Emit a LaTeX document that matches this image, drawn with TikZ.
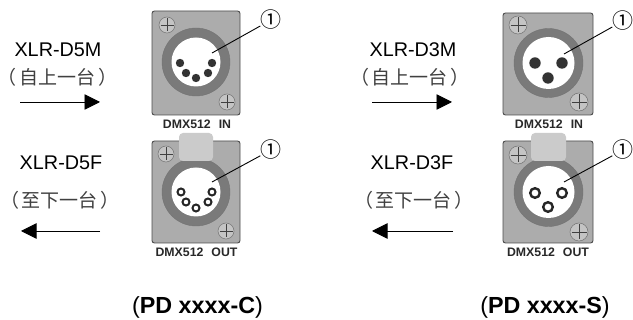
\documentclass[tikz,border=0pt]{standalone}
\usepackage{fontspec}
\usetikzlibrary{arrows.meta}
\setmainfont{Liberation Sans}
\newfontfamily\cjkf{Noto Sans CJK SC}
\definecolor{plate}{RGB}{172,172,172}
\definecolor{ringc}{RGB}{122,122,122}
\definecolor{tabc}{RGB}{203,203,203}
\definecolor{screwc}{RGB}{196,196,196}
\definecolor{labelc}{RGB}{40,40,40}
\tikzset{
  platebox/.style={draw=black!70,line width=0.9pt,fill=plate,rounded corners=2.5pt},
  tabbox/.style={fill=tabc,rounded corners=4pt},
  ringo/.style={draw=black!55,line width=0.4pt,fill=ringc},
  inner/.style={fill=white},
  pinm/.style={fill=black!80},
  pinf/.style={draw=black!85,fill=white},
  screwh/.style={draw=black!55,line width=0.5pt,fill=screwc},
  screwx/.style={draw=black!75,line width=0.7pt},
  leader/.style={draw=black,line width=0.9pt},
  callout/.style={inner sep=0pt,font=\cjkf\fontsize{21}{21}\selectfont},
  dmx/.style={inner sep=0pt,text=labelc,font=\bfseries\fontsize{12.3}{13}\selectfont},
  xlr/.style={inner sep=0pt,font=\fontsize{19.8}{22}\selectfont},
  cn/.style={inner sep=0pt,text=black!75,font=\cjkf\fontsize{19}{21}\selectfont},
  model/.style={inner sep=0pt,font=\fontsize{23.3}{26}\selectfont},
  flow/.style={draw=black,line width=0.9pt,-{Triangle[length=15.5pt,width=15.5pt]}},
}
\newcommand{\screwmark}[3]{%
  \fill[screwh] (#1,#2) circle (#3);
  \draw[screwx] (#1-#3+1.5,#2) -- (#1+#3-1.5,#2) (#1,#2-#3+1.5) -- (#1,#2+#3-1.5);}
\begin{document}
\begin{tikzpicture}[x=1pt,y=-1pt]
\useasboundingbox (0,0) rectangle (633,320);
% panel 1
\filldraw[platebox] (152,11) rectangle (240,115);
\screwmark{167}{25}{8}\screwmark{227}{102}{8}
\fill[ringo] (196,62) circle (34);
\fill[inner] (196,62) circle (24.5);
\foreach \p in {(180,63),(212,63),(186,73),(208,73),(196,78)} \fill[pinm] \p circle (4.2);
\node[callout] (c1) at (271,20) {①};
\coordinate (t1) at (212,53);
\draw[leader] (c1) -- (t1);
\node[dmx] (d1) at (197,124) {DMX512\hspace{8pt}IN};
% panel 2
\filldraw[platebox] (152,141) rectangle (240,243);
\screwmark{166}{154}{8}\screwmark{226}{231}{8}
\fill[ringo] (196,192) circle (34);
\fill[inner] (196,192) circle (24.5);
\fill[tabbox] (179,133) rectangle (213,161);
\foreach \p in {(181,192),(212,192),(186,202),(208,202),(196,208)} \filldraw[pinf,line width=2pt] \p circle (3.5);
\node[callout] (c2) at (271,150) {①};
\coordinate (t2) at (212,182);
\draw[leader] (c2) -- (t2);
\node[dmx] (d2) at (196.5,252) {DMX512\hspace{8pt}OUT};
% panel 3
\filldraw[platebox] (503,13) rectangle (593,115);
\screwmark{518}{25}{9}\screwmark{579}{102}{9}
\fill[ringo] (548.5,63) circle (34.5);
\fill[inner] (548.5,63) circle (26);
\foreach \p in {(535,63),(562,63),(548,78)} \fill[pinm] \p circle (5.7);
\node[callout] (c3) at (623,21) {①};
\coordinate (t3) at (564,54);
\draw[leader] (c3) -- (t3);
\node[dmx] (d3) at (549,124) {DMX512\hspace{8pt}IN};
% panel 4
\filldraw[platebox] (503,141) rectangle (593,243);
\screwmark{518}{155}{9}\screwmark{579}{232}{9}
\fill[ringo] (548.5,192) circle (34.5);
\fill[inner] (548.5,192) circle (26);
\fill[tabbox] (531,133) rectangle (566,161);
\foreach \p in {(535,193),(562,193),(548,207)} \filldraw[pinf,line width=2.4pt] \p circle (4.8);
\node[callout] (c4) at (623,150) {①};
\coordinate (t4) at (564,182);
\draw[leader] (c4) -- (t4);
\node[dmx] (d4) at (548,252) {DMX512\hspace{8pt}OUT};
% left texts
\node[xlr] (x1) at (58,50) {XLR-D5M};
\node[cn] (n1) at (58,77) {（\hspace{3pt}自上一台\hspace{3pt}）};
\coordinate (a1s) at (20,102); \coordinate (a1e) at (100,102);
\draw[flow] (a1s) -- (a1e);
\node[xlr] (x2) at (61,163) {XLR-D5F};
\node[cn] (n2) at (60,200) {（\hspace{3pt}至下一台\hspace{3pt}）};
\coordinate (a2s) at (100,231); \coordinate (a2e) at (21,231);
\draw[flow] (a2s) -- (a2e);
% right texts
\node[xlr] (x3) at (413,50) {XLR-D3M};
\node[cn] (n3) at (410,77) {（\hspace{3pt}自上一台\hspace{3pt}）};
\coordinate (a3s) at (372,102); \coordinate (a3e) at (452,102);
\draw[flow] (a3s) -- (a3e);
\node[xlr] (x4) at (412,163) {XLR-D3F};
\node[cn] (n4) at (414,200) {（\hspace{3pt}至下一台\hspace{3pt}）};
\coordinate (a4s) at (453,231); \coordinate (a4e) at (372,231);
\draw[flow] (a4s) -- (a4e);
% models
\node[model] (m1) at (197.5,307) {(\textbf{PD xxxx-C})};
\node[model] (m2) at (545,307) {(\textbf{PD xxxx-S})};
\end{tikzpicture}
\end{document}
